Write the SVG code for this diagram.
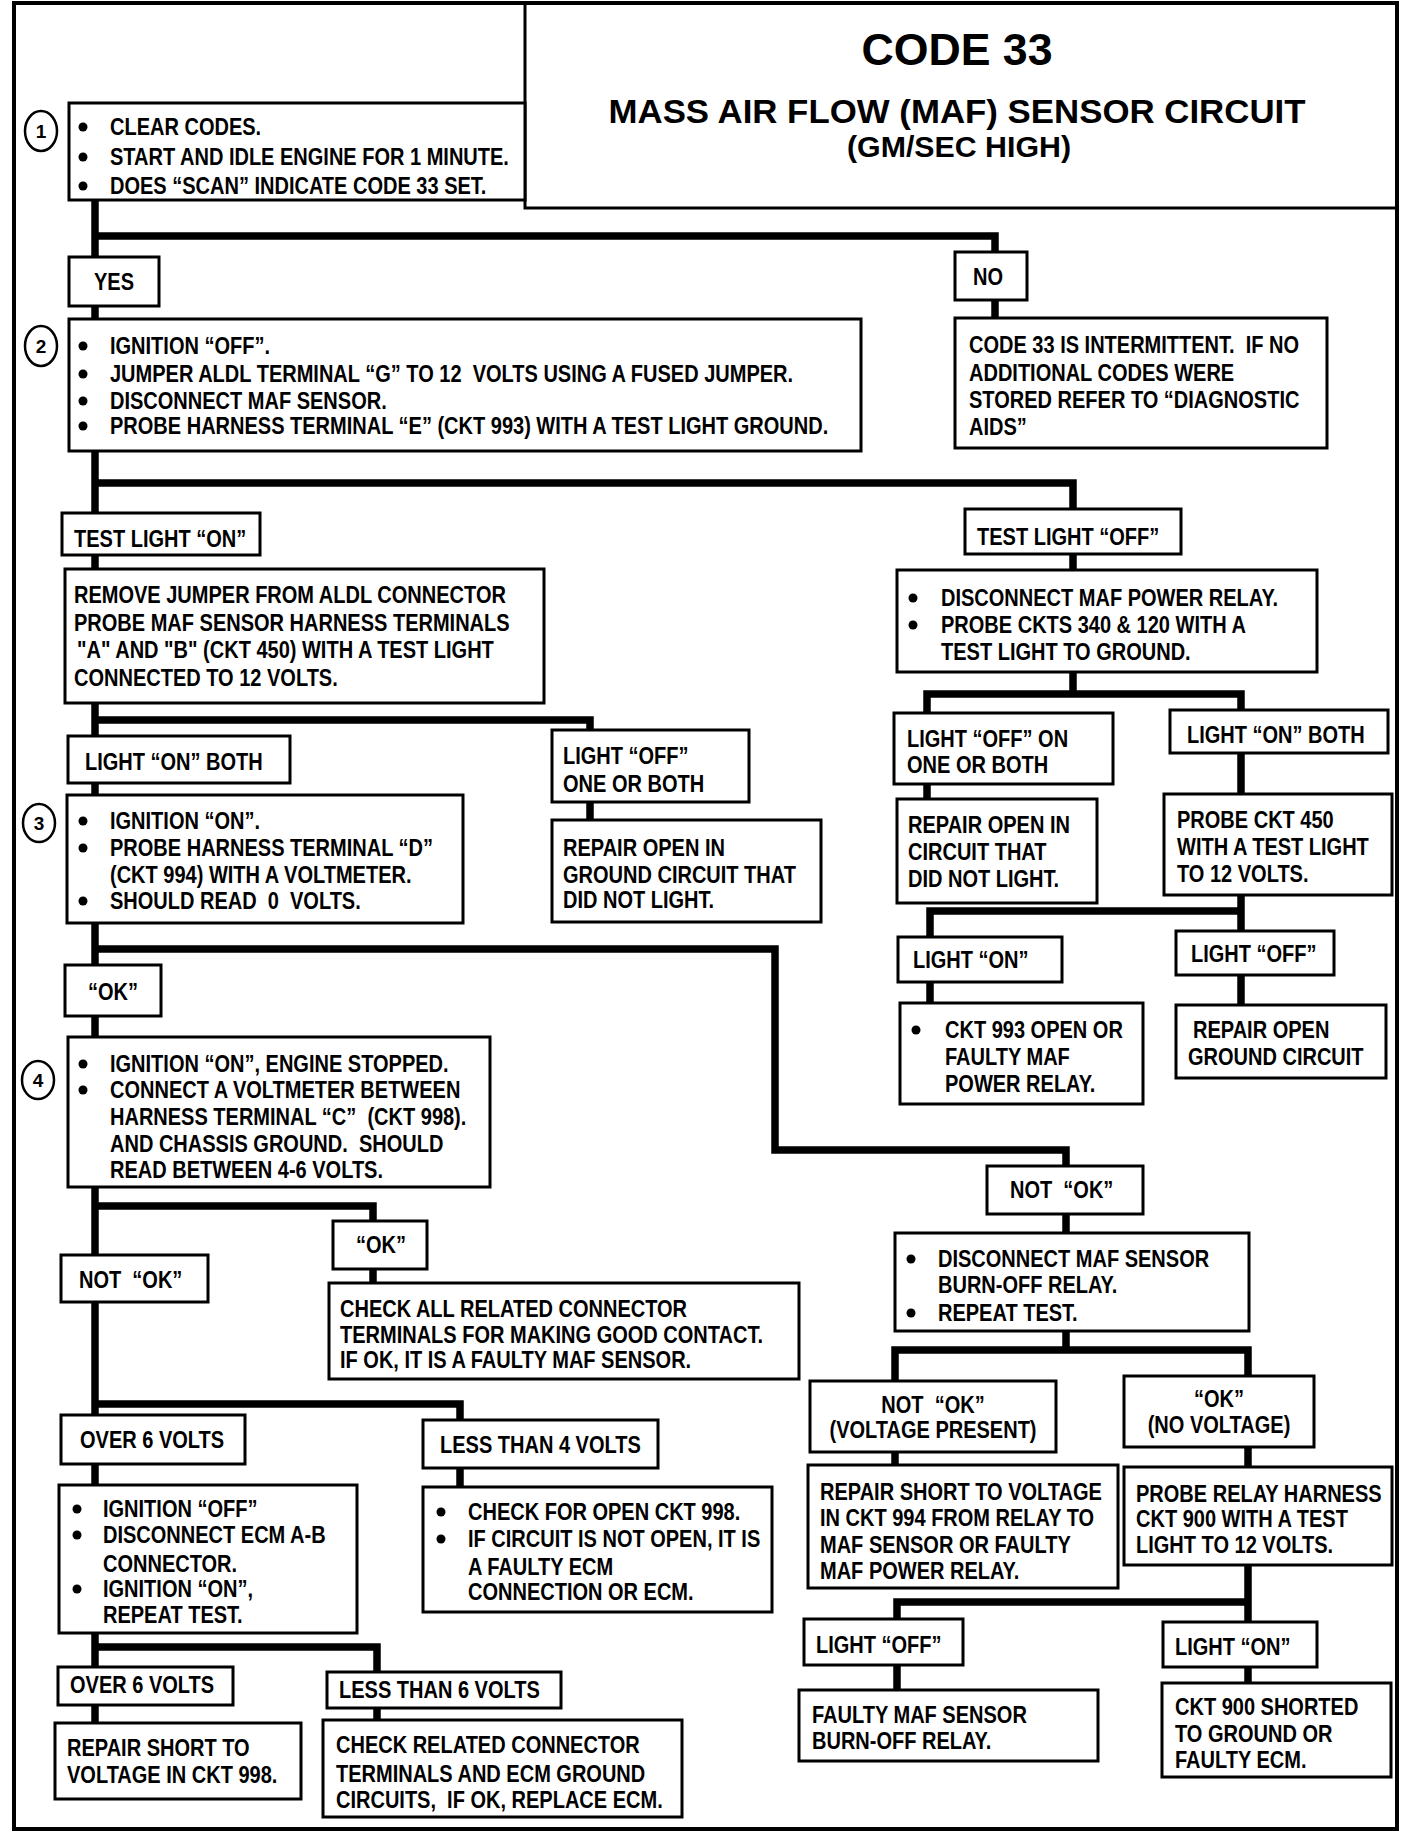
<svg xmlns="http://www.w3.org/2000/svg" width="1408" height="1840" viewBox="0 0 1408 1840">
<style>
.box{fill:#fff;stroke:#000;stroke-width:3}
.c{fill:none;stroke:#000;stroke-width:7.5;stroke-linejoin:miter}
.t{font-family:"Liberation Sans",Arial,sans-serif;font-weight:700;font-size:23px;fill:#000}
.m{text-anchor:middle}
.b{fill:#000}
.num{fill:#fff;stroke:#000;stroke-width:2.5}
.n{font-family:"Liberation Sans",Arial,sans-serif;font-weight:700;font-size:19px;text-anchor:middle}
.h{font-family:"Liberation Sans",Arial,sans-serif;font-weight:700;text-anchor:middle}
</style>
<rect width="1408" height="1840" fill="#fff"/>
<rect x="14" y="3" width="1383" height="1826" fill="none" stroke="#000" stroke-width="4"/>

<g id="connectors" class="c">
<path d="M95,200 V1723"/>
<path d="M95,236 H995 V318"/>
<path d="M95,483 H1073 V694"/>
<path d="M927,799 V694 H1241 V1005"/>
<path d="M930,1003 V911 H1241"/>
<path d="M95,720 H590 V820"/>
<path d="M95,949 H775 V1150 H1066 V1350"/>
<path d="M895,1465 V1350 H1248 V1683"/>
<path d="M897,1690 V1602 H1248"/>
<path d="M95,1206 H373 V1283"/>
<path d="M95,1404 H460 V1487"/>
<path d="M95,1647 H377 V1720"/>
</g>

<g id="title">
<path d="M525,3 V208 H1397" fill="none" stroke="#000" stroke-width="3"/>
<text class="h" x="957" y="65" font-size="45" textLength="191" lengthAdjust="spacingAndGlyphs">CODE 33</text>
<text class="h" x="957" y="123" font-size="33" textLength="697" lengthAdjust="spacingAndGlyphs">MASS AIR FLOW (MAF) SENSOR CIRCUIT</text>
<text class="h" x="959" y="157" font-size="29" textLength="224" lengthAdjust="spacingAndGlyphs">(GM/SEC HIGH)</text>
</g>

<g id="step1">
<ellipse class="num" cx="41" cy="131" rx="16" ry="20"/>
<text class="n" x="41" y="138">1</text>
<rect class="box" x="69" y="103" width="456" height="97"/>
<circle class="b" cx="83" cy="127" r="4.5"/><circle class="b" cx="83" cy="157" r="4.5"/><circle class="b" cx="83" cy="186" r="4.5"/>
<text class="t" transform="translate(110,135) scale(.87,1)">CLEAR CODES.</text>
<text class="t" transform="translate(110,165) scale(.87,1)">START AND IDLE ENGINE FOR 1 MINUTE.</text>
<text class="t" transform="translate(110,194) scale(.87,1)">DOES “SCAN” INDICATE CODE 33 SET.</text>
</g>

<g id="yes">
<rect class="box" x="69" y="257" width="90" height="49"/>
<text class="t" transform="translate(94,290) scale(.87,1)">YES</text>
</g>

<g id="no">
<rect class="box" x="955" y="252" width="72" height="48"/>
<text class="t" transform="translate(973,285) scale(.87,1)">NO</text>
</g>

<g id="intermittent">
<rect class="box" x="955" y="318" width="372" height="130"/>
<text class="t" transform="translate(969,353) scale(.87,1)">CODE 33 IS INTERMITTENT.&#160; IF NO</text>
<text class="t" transform="translate(969,381) scale(.87,1)">ADDITIONAL CODES WERE</text>
<text class="t" transform="translate(969,408) scale(.87,1)">STORED REFER TO “DIAGNOSTIC</text>
<text class="t" transform="translate(969,435) scale(.87,1)">AIDS”</text>
</g>

<g id="step2">
<ellipse class="num" cx="41" cy="346" rx="16" ry="20"/>
<text class="n" x="41" y="353">2</text>
<rect class="box" x="69" y="319" width="792" height="132"/>
<circle class="b" cx="83" cy="346" r="4.5"/><circle class="b" cx="83" cy="374" r="4.5"/><circle class="b" cx="83" cy="401" r="4.5"/><circle class="b" cx="83" cy="426" r="4.5"/>
<text class="t" transform="translate(110,354) scale(.87,1)">IGNITION “OFF”.</text>
<text class="t" transform="translate(110,382) scale(.87,1)">JUMPER ALDL TERMINAL “G” TO 12&#160; VOLTS USING A FUSED JUMPER.</text>
<text class="t" transform="translate(110,409) scale(.87,1)">DISCONNECT MAF SENSOR.</text>
<text class="t" transform="translate(110,434) scale(.87,1)">PROBE HARNESS TERMINAL “E” (CKT 993) WITH A TEST LIGHT GROUND.</text>
</g>

<g id="testlight-on">
<rect class="box" x="62" y="513" width="198" height="42"/>
<text class="t" transform="translate(74,547) scale(.87,1)">TEST LIGHT “ON”</text>
</g>

<g id="remove-jumper">
<rect class="box" x="65" y="569" width="479" height="134"/>
<text class="t" transform="translate(74,603) scale(.87,1)">REMOVE JUMPER FROM ALDL CONNECTOR</text>
<text class="t" transform="translate(74,631) scale(.87,1)">PROBE MAF SENSOR HARNESS TERMINALS</text>
<text class="t" transform="translate(77,658) scale(.87,1)">"A" AND "B" (CKT 450) WITH A TEST LIGHT</text>
<text class="t" transform="translate(74,686) scale(.87,1)">CONNECTED TO 12 VOLTS.</text>
</g>

<g id="light-on-both-1">
<rect class="box" x="68" y="736" width="222" height="47"/>
<text class="t" transform="translate(85,770) scale(.87,1)">LIGHT “ON” BOTH</text>
</g>

<g id="light-off-one-1">
<rect class="box" x="552" y="730" width="197" height="72"/>
<text class="t" transform="translate(563,764) scale(.87,1)">LIGHT “OFF”</text>
<text class="t" transform="translate(563,792) scale(.87,1)">ONE OR BOTH</text>
</g>

<g id="repair-ground-1">
<rect class="box" x="552" y="820" width="269" height="102"/>
<text class="t" transform="translate(563,856) scale(.87,1)">REPAIR OPEN IN</text>
<text class="t" transform="translate(563,883) scale(.87,1)">GROUND CIRCUIT THAT</text>
<text class="t" transform="translate(563,908) scale(.87,1)">DID NOT LIGHT.</text>
</g>

<g id="step3">
<ellipse class="num" cx="39" cy="823" rx="16" ry="19"/>
<text class="n" x="39" y="830">3</text>
<rect class="box" x="67" y="795" width="396" height="128"/>
<circle class="b" cx="83" cy="821" r="4.5"/><circle class="b" cx="83" cy="848" r="4.5"/><circle class="b" cx="83" cy="901" r="4.5"/>
<text class="t" transform="translate(110,829) scale(.87,1)">IGNITION “ON”.</text>
<text class="t" transform="translate(110,856) scale(.87,1)">PROBE HARNESS TERMINAL “D”</text>
<text class="t" transform="translate(110,883) scale(.87,1)">(CKT 994) WITH A VOLTMETER.</text>
<text class="t" transform="translate(110,909) scale(.87,1)">SHOULD READ&#160; 0&#160; VOLTS.</text>
</g>

<g id="testlight-off">
<rect class="box" x="965" y="509" width="216" height="45"/>
<text class="t" transform="translate(977,545) scale(.87,1)">TEST LIGHT “OFF”</text>
</g>

<g id="disconnect-power-relay">
<rect class="box" x="897" y="570" width="420" height="102"/>
<circle class="b" cx="913" cy="598" r="4.5"/><circle class="b" cx="913" cy="625" r="4.5"/>
<text class="t" transform="translate(941,606) scale(.87,1)">DISCONNECT MAF POWER RELAY.</text>
<text class="t" transform="translate(941,633) scale(.87,1)">PROBE CKTS 340 &amp; 120 WITH A</text>
<text class="t" transform="translate(941,660) scale(.87,1)">TEST LIGHT TO GROUND.</text>
</g>

<g id="light-off-one-2">
<rect class="box" x="894" y="713" width="219" height="71"/>
<text class="t" transform="translate(907,747) scale(.87,1)">LIGHT “OFF” ON</text>
<text class="t" transform="translate(907,773) scale(.87,1)">ONE OR BOTH</text>
</g>

<g id="repair-circuit-2">
<rect class="box" x="897" y="799" width="200" height="104"/>
<text class="t" transform="translate(908,833) scale(.87,1)">REPAIR OPEN IN</text>
<text class="t" transform="translate(908,860) scale(.87,1)">CIRCUIT THAT</text>
<text class="t" transform="translate(908,887) scale(.87,1)">DID NOT LIGHT.</text>
</g>

<g id="light-on-both-2">
<rect class="box" x="1170" y="710" width="218" height="43"/>
<text class="t" transform="translate(1187,743) scale(.87,1)">LIGHT “ON” BOTH</text>
</g>

<g id="probe-450">
<rect class="box" x="1164" y="794" width="228" height="101"/>
<text class="t" transform="translate(1177,828) scale(.87,1)">PROBE CKT 450</text>
<text class="t" transform="translate(1177,855) scale(.87,1)">WITH A TEST LIGHT</text>
<text class="t" transform="translate(1177,882) scale(.87,1)">TO 12 VOLTS.</text>
</g>

<g id="light-on-2">
<rect class="box" x="898" y="937" width="164" height="45"/>
<text class="t" transform="translate(913,968) scale(.87,1)">LIGHT “ON”</text>
</g>

<g id="ckt993">
<rect class="box" x="900" y="1003" width="243" height="101"/>
<circle class="b" cx="916" cy="1030" r="4.5"/>
<text class="t" transform="translate(945,1038) scale(.87,1)">CKT 993 OPEN OR</text>
<text class="t" transform="translate(945,1065) scale(.87,1)">FAULTY MAF</text>
<text class="t" transform="translate(945,1092) scale(.87,1)">POWER RELAY.</text>
</g>

<g id="light-off-2">
<rect class="box" x="1176" y="931" width="158" height="44"/>
<text class="t" transform="translate(1191,962) scale(.87,1)">LIGHT “OFF”</text>
</g>

<g id="repair-ground-2">
<rect class="box" x="1176" y="1005" width="210" height="73"/>
<text class="t" transform="translate(1193,1038) scale(.87,1)">REPAIR OPEN</text>
<text class="t" transform="translate(1188,1065) scale(.87,1)">GROUND CIRCUIT</text>
</g>

<g id="ok-1">
<rect class="box" x="65" y="965" width="96" height="51"/>
<text class="t" transform="translate(88,1000) scale(.87,1)">“OK”</text>
</g>

<g id="step4">
<ellipse class="num" cx="38" cy="1080" rx="16" ry="19"/>
<text class="n" x="38" y="1087">4</text>
<rect class="box" x="68" y="1037" width="422" height="150"/>
<circle class="b" cx="83" cy="1064" r="4.5"/><circle class="b" cx="83" cy="1090" r="4.5"/>
<text class="t" transform="translate(110,1072) scale(.87,1)">IGNITION “ON”, ENGINE STOPPED.</text>
<text class="t" transform="translate(110,1098) scale(.87,1)">CONNECT A VOLTMETER BETWEEN</text>
<text class="t" transform="translate(110,1125) scale(.87,1)">HARNESS TERMINAL “C”&#160; (CKT 998).</text>
<text class="t" transform="translate(110,1152) scale(.87,1)">AND CHASSIS GROUND.&#160; SHOULD</text>
<text class="t" transform="translate(110,1178) scale(.87,1)">READ BETWEEN 4-6 VOLTS.</text>
</g>

<g id="ok-2">
<rect class="box" x="333" y="1221" width="94" height="48"/>
<text class="t" transform="translate(356,1253) scale(.87,1)">“OK”</text>
</g>

<g id="check-all">
<rect class="box" x="329" y="1283" width="470" height="96"/>
<text class="t" transform="translate(340,1317) scale(.87,1)">CHECK ALL RELATED CONNECTOR</text>
<text class="t" transform="translate(340,1343) scale(.87,1)">TERMINALS FOR MAKING GOOD CONTACT.</text>
<text class="t" transform="translate(340,1368) scale(.87,1)">IF OK, IT IS A FAULTY MAF SENSOR.</text>
</g>

<g id="not-ok-1">
<rect class="box" x="61" y="1255" width="147" height="47"/>
<text class="t" transform="translate(79,1288) scale(.87,1)">NOT&#160; “OK”</text>
</g>

<g id="not-ok-2">
<rect class="box" x="987" y="1166" width="156" height="48"/>
<text class="t" transform="translate(1010,1198) scale(.87,1)">NOT&#160; “OK”</text>
</g>

<g id="disconnect-burnoff">
<rect class="box" x="895" y="1233" width="354" height="98"/>
<circle class="b" cx="911" cy="1259" r="4.5"/><circle class="b" cx="911" cy="1313" r="4.5"/>
<text class="t" transform="translate(938,1267) scale(.87,1)">DISCONNECT MAF SENSOR</text>
<text class="t" transform="translate(938,1293) scale(.87,1)">BURN-OFF RELAY.</text>
<text class="t" transform="translate(938,1321) scale(.87,1)">REPEAT TEST.</text>
</g>

<g id="not-ok-voltage">
<rect class="box" x="810" y="1381" width="246" height="71"/>
<text class="t m" transform="translate(933,1413) scale(.87,1)">NOT&#160; “OK”</text>
<text class="t m" transform="translate(933,1438) scale(.87,1)">(VOLTAGE PRESENT)</text>
</g>

<g id="ok-no-voltage">
<rect class="box" x="1124" y="1376" width="190" height="71"/>
<text class="t m" transform="translate(1219,1407) scale(.87,1)">“OK”</text>
<text class="t m" transform="translate(1219,1433) scale(.87,1)">(NO VOLTAGE)</text>
</g>

<g id="repair-short-994">
<rect class="box" x="808" y="1465" width="310" height="123"/>
<text class="t" transform="translate(820,1500) scale(.87,1)">REPAIR SHORT TO VOLTAGE</text>
<text class="t" transform="translate(820,1526) scale(.87,1)">IN CKT 994 FROM RELAY TO</text>
<text class="t" transform="translate(820,1553) scale(.87,1)">MAF SENSOR OR FAULTY</text>
<text class="t" transform="translate(820,1579) scale(.87,1)">MAF POWER RELAY.</text>
</g>

<g id="probe-relay">
<rect class="box" x="1124" y="1467" width="268" height="98"/>
<text class="t" transform="translate(1136,1502) scale(.87,1)">PROBE RELAY HARNESS</text>
<text class="t" transform="translate(1136,1527) scale(.87,1)">CKT 900 WITH A TEST</text>
<text class="t" transform="translate(1136,1553) scale(.87,1)">LIGHT TO 12 VOLTS.</text>
</g>

<g id="light-off-3">
<rect class="box" x="804" y="1619" width="159" height="46"/>
<text class="t" transform="translate(816,1653) scale(.87,1)">LIGHT “OFF”</text>
</g>

<g id="faulty-burnoff">
<rect class="box" x="799" y="1690" width="299" height="71"/>
<text class="t" transform="translate(812,1723) scale(.87,1)">FAULTY MAF SENSOR</text>
<text class="t" transform="translate(812,1749) scale(.87,1)">BURN-OFF RELAY.</text>
</g>

<g id="light-on-3">
<rect class="box" x="1163" y="1622" width="154" height="45"/>
<text class="t" transform="translate(1175,1655) scale(.87,1)">LIGHT “ON”</text>
</g>

<g id="ckt900">
<rect class="box" x="1162" y="1683" width="229" height="94"/>
<text class="t" transform="translate(1175,1715) scale(.87,1)">CKT 900 SHORTED</text>
<text class="t" transform="translate(1175,1742) scale(.87,1)">TO GROUND OR</text>
<text class="t" transform="translate(1175,1768) scale(.87,1)">FAULTY ECM.</text>
</g>

<g id="over6-a">
<rect class="box" x="61" y="1415" width="184" height="49"/>
<text class="t" transform="translate(80,1448) scale(.87,1)">OVER 6 VOLTS</text>
</g>

<g id="ignition-off-ecm">
<rect class="box" x="59" y="1485" width="298" height="148"/>
<circle class="b" cx="77" cy="1509" r="4.5"/><circle class="b" cx="77" cy="1535" r="4.5"/><circle class="b" cx="77" cy="1589" r="4.5"/>
<text class="t" transform="translate(103,1517) scale(.87,1)">IGNITION “OFF”</text>
<text class="t" transform="translate(103,1543) scale(.87,1)">DISCONNECT ECM A-B</text>
<text class="t" transform="translate(103,1572) scale(.87,1)">CONNECTOR.</text>
<text class="t" transform="translate(103,1597) scale(.87,1)">IGNITION “ON”,</text>
<text class="t" transform="translate(103,1623) scale(.87,1)">REPEAT TEST.</text>
</g>

<g id="less4">
<rect class="box" x="423" y="1420" width="235" height="48"/>
<text class="t" transform="translate(440,1453) scale(.87,1)">LESS THAN 4 VOLTS</text>
</g>

<g id="check-open-998">
<rect class="box" x="423" y="1487" width="349" height="125"/>
<circle class="b" cx="441" cy="1512" r="4.5"/><circle class="b" cx="441" cy="1539" r="4.5"/>
<text class="t" transform="translate(468,1520) scale(.87,1)">CHECK FOR OPEN CKT 998.</text>
<text class="t" transform="translate(468,1547) scale(.87,1)">IF CIRCUIT IS NOT OPEN, IT IS</text>
<text class="t" transform="translate(468,1575) scale(.87,1)">A FAULTY ECM</text>
<text class="t" transform="translate(468,1600) scale(.87,1)">CONNECTION OR ECM.</text>
</g>

<g id="over6-b">
<rect class="box" x="58" y="1667" width="175" height="38"/>
<text class="t" transform="translate(70,1693) scale(.87,1)">OVER 6 VOLTS</text>
</g>

<g id="repair-998">
<rect class="box" x="55" y="1723" width="246" height="76"/>
<text class="t" transform="translate(67,1756) scale(.87,1)">REPAIR SHORT TO</text>
<text class="t" transform="translate(67,1783) scale(.87,1)">VOLTAGE IN CKT 998.</text>
</g>

<g id="less6">
<rect class="box" x="327" y="1672" width="234" height="36"/>
<text class="t" transform="translate(339,1698) scale(.87,1)">LESS THAN 6 VOLTS</text>
</g>

<g id="check-related">
<rect class="box" x="323" y="1720" width="359" height="97"/>
<text class="t" transform="translate(336,1753) scale(.87,1)">CHECK RELATED CONNECTOR</text>
<text class="t" transform="translate(336,1782) scale(.87,1)">TERMINALS AND ECM GROUND</text>
<text class="t" transform="translate(336,1808) scale(.87,1)">CIRCUITS,&#160; IF OK, REPLACE ECM.</text>
</g>
</svg>
